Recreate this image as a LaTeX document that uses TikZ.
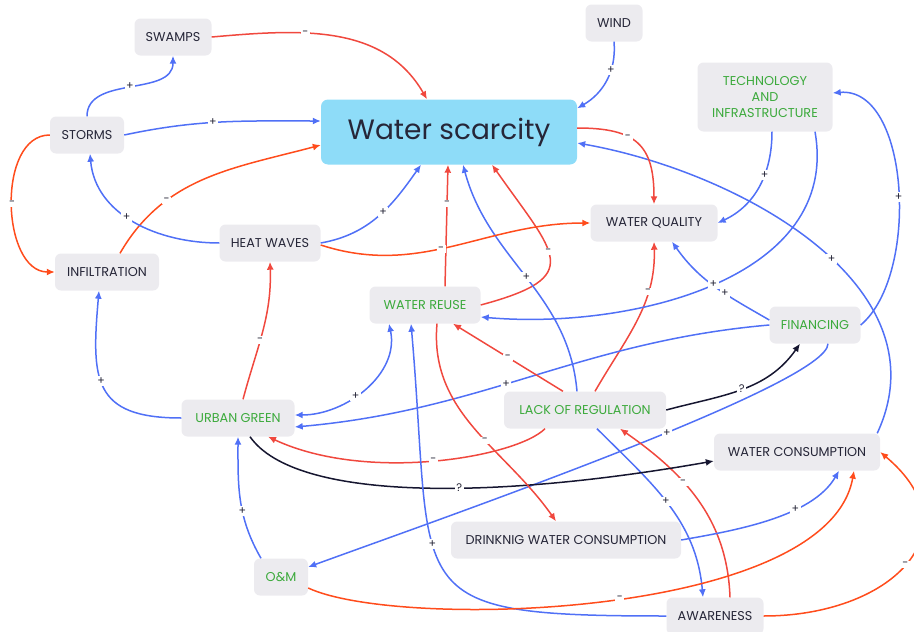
\documentclass[tikz,border=0pt]{standalone}
\usepackage{fontspec}
\setmainfont{Poppins}
\usetikzlibrary{arrows.meta, positioning}

\definecolor{boxgray}{RGB}{236,235,239}
\definecolor{wsblue}{RGB}{142,220,248}
\definecolor{inkdark}{RGB}{38,38,56}
\definecolor{levergreen}{RGB}{60,170,60}
\definecolor{linkblue}{RGB}{80,112,246}
\definecolor{linkred}{RGB}{240,72,62}
\definecolor{linkorange}{RGB}{255,76,28}
\definecolor{linknavy}{RGB}{22,22,48}

\begin{document}
\begin{tikzpicture}[x=1pt,y=1pt,
    box/.style={rectangle,rounded corners=6pt,fill=boxgray,text=inkdark,font=\fontsize{12.8}{16}\selectfont,minimum height=37pt,inner xsep=6pt},
    lever/.style={box,text=levergreen},
    link/.style={line width=1.5pt,-{Latex[length=8pt,width=7pt]}},
    posedge/.style={link,draw=linkblue},
    negedge/.style={link,draw=linkred},
    negorange/.style={link,draw=linkorange},
    unknownedge/.style={link,draw=linknavy},
    twoway/.style={{Latex[length=8pt,width=7pt]}-{Latex[length=8pt,width=7pt]}},
    sgn/.style={fill=white,inner sep=1.5pt,text=inkdark,font=\fontsize{11}{11}\selectfont}]
    \useasboundingbox (0,0) rectangle (914,-632);

    % factors
    \node[box,rounded corners=7pt,fill=wsblue,minimum width=256pt,minimum height=65pt,font=\fontsize{28}{32}\selectfont] (ws) at (449,-132) {Water scarcity};
    \node[box,minimum width=77pt] (swamps) at (173,-37) {SWAMPS};
    \node[box,minimum width=57pt] (wind) at (614,-23) {WIND};
    \node[lever,minimum width=135pt,minimum height=69pt,align=center] (tech) at (765,-97) {TECHNOLOGY\\AND\\INFRASTRUCTURE};
    \node[box,minimum width=74pt] (storms) at (87,-135) {STORMS};
    \node[box,minimum width=127pt] (wq) at (654,-223) {WATER QUALITY};
    \node[box,minimum width=101pt] (heat) at (270,-243) {HEAT WAVES};
    \node[box,minimum width=104pt] (infil) at (107,-272) {INFILTRATION};
    \node[lever,minimum width=111pt] (reuse) at (425,-305) {WATER REUSE};
    \node[lever,minimum width=91pt] (fin) at (815,-325) {FINANCING};
    \node[lever,minimum width=113pt] (urban) at (238,-418) {URBAN GREEN};
    \node[lever,minimum width=162pt] (lack) at (585,-410) {LACK OF REGULATION};
    \node[box,minimum width=166pt] (wc) at (797,-452) {WATER CONSUMPTION};
    \node[box,minimum width=230pt] (dwc) at (566,-540) {DRINKNIG WATER CONSUMPTION};
    \node[lever,minimum width=54pt] (om) at (281,-577) {O\&M};
    \node[box,minimum width=97pt] (aware) at (715,-616) {AWARENESS};

    % links into water scarcity
    \draw[negedge] (swamps.east) to[out=5,in=120] node[sgn,pos=0.37]{-} ([xshift=-22pt]ws.north);
    \draw[posedge] (storms.east) to[out=12,in=180] node[sgn,pos=0.45]{+} ([yshift=11pt]ws.west);
    \draw[negorange] ([xshift=13pt]infil.north) to[out=60,in=195] node[sgn,pos=0.3]{-} ([yshift=-13pt]ws.west);
    \draw[posedge] (heat.east) to[out=10,in=-125] node[sgn,pos=0.55]{+} ([xshift=-28pt]ws.south);
    \draw[posedge] (wind.south) to[out=-85,in=30] node[sgn,pos=0.35]{+} ([yshift=-9pt]ws.north east);
    \draw[negedge] ([xshift=20pt]reuse.north) -- node[sgn,pos=0.68]{-} ([xshift=-1pt]ws.south);
    \draw[negedge] (reuse.east) to[out=15,in=-55,looseness=2] node[sgn,pos=0.55]{-} ([xshift=43pt]ws.south);
    \draw[posedge] ([xshift=-8pt]lack.north) to[out=95,in=-75] node[sgn,pos=0.5]{+} ([xshift=14pt]ws.south);
    \draw[posedge] ([xshift=-3pt]wc.north east) to[out=65,in=-10] node[sgn,pos=0.45]{+} ([yshift=-11pt]ws.east);

    % climate
    \draw[posedge] (storms.north) to[out=90,in=-90] node[sgn,pos=0.5]{+} (swamps.south);
    \draw[negorange] (storms.west) to[out=180,in=180] node[sgn]{-} (infil.west);
    \draw[posedge] (heat.west) to[out=180,in=-85] node[sgn,pos=0.55]{+} ([xshift=3pt]storms.south);
    \draw[negorange] ([yshift=-2pt]heat.east) to[out=-18,in=180] node[sgn,pos=0.45]{-} (wq.west);

    % water quality
    \draw[negedge] ([yshift=4pt]ws.east) to[out=0,in=90,looseness=1.4] node[sgn,pos=0.38]{-} (wq.north);
    \draw[posedge] ([xshift=7pt]tech.south) to[out=-90,in=25] node[sgn,pos=0.38]{+} (wq.east);
    \draw[posedge] ([yshift=5pt]fin.west) to[out=150,in=-55] node[sgn,pos=0.4]{+} ([xshift=18pt]wq.south);
    \draw[negedge] ([xshift=10pt]lack.north) to[out=60,in=-88] node[sgn,pos=0.7]{-} (wq.south);

    % technology, financing
    \draw[posedge] ([xshift=50pt]tech.south) to[out=-80,in=-5] node[sgn,pos=0.5]{+} ([yshift=-12pt]reuse.east);
    \draw[posedge] (fin.east) to[out=40,in=5,looseness=0.85] node[sgn,pos=0.47]{+} ([yshift=4pt]tech.east);
    \draw[posedge] (fin.west) to[out=185,in=5] node[sgn,pos=0.56]{+} ([yshift=-9pt]urban.east);
    \draw[posedge] ([xshift=13pt]fin.south) to[out=-90,in=20,out distance=40pt,in distance=150pt] node[sgn,pos=0.43]{+} ([yshift=10pt]om.east);

    % regulation
    \draw[negedge] ([xshift=-22pt]lack.north) -- node[sgn]{-} ([xshift=28pt]reuse.south);
    \draw[negedge] ([xshift=-40pt]lack.south) to[out=-135,in=-25,out distance=40pt,in distance=110pt] node[sgn,pos=0.5]{-} ([xshift=30pt]urban.south);
    \draw[unknownedge] (lack.east) to[out=15,in=-125] node[sgn,pos=0.5]{?} ([xshift=-15pt]fin.south);
    \draw[posedge] ([xshift=12pt]lack.south) to[out=-45,in=95] node[sgn,pos=0.48]{+} ([xshift=-12pt]aware.north);
    \draw[negedge] ([xshift=15pt]aware.north) to[out=92,in=-35] node[sgn,pos=0.62]{-} ([xshift=35pt]lack.south);

    % urban green
    \draw[posedge,twoway] ([yshift=3pt]urban.east) to[out=0,in=-78] node[sgn,pos=0.42]{+} ([xshift=-36pt]reuse.south);
    \draw[negedge] ([xshift=5pt]urban.north) to[out=75,in=-88] node[sgn,pos=0.43]{-} (heat.south);
    \draw[posedge] (urban.west) to[out=180,in=-95,looseness=1.5] node[sgn,pos=0.55]{+} ([xshift=-8pt]infil.south);
    \draw[posedge] ([xshift=-20pt]om.north) to[out=120,in=-90] node[sgn,pos=0.4]{+} (urban.south);
    \draw[unknownedge] ([xshift=12pt]urban.south) to[out=-55,in=190,out distance=80pt,in distance=220pt] node[sgn,pos=0.58]{?} ([yshift=-9pt]wc.west);

    % consumption
    \draw[negedge] ([xshift=12pt]reuse.south) to[out=-95,in=125] node[sgn,pos=0.57]{-} ([xshift=-10pt]dwc.north);
    \draw[posedge] (aware.west) to[out=180,in=-85,looseness=1.8] node[sgn,pos=0.6]{+} ([xshift=-14pt]reuse.south);
    \draw[posedge] (dwc.east) to[out=10,in=-120,looseness=0.8] node[sgn,pos=0.65]{+} ([xshift=42pt]wc.south);
    \draw[negorange] ([yshift=-11pt]om.east) to[out=-25,in=-100,out distance=100pt,in distance=150pt] node[sgn,pos=0.52]{-} ([xshift=57pt]wc.south);
    \draw[negorange] (aware.east) to[out=0,in=-40,looseness=1.6] node[sgn,pos=0.5]{-} (wc.east);
\end{tikzpicture}
\end{document}
